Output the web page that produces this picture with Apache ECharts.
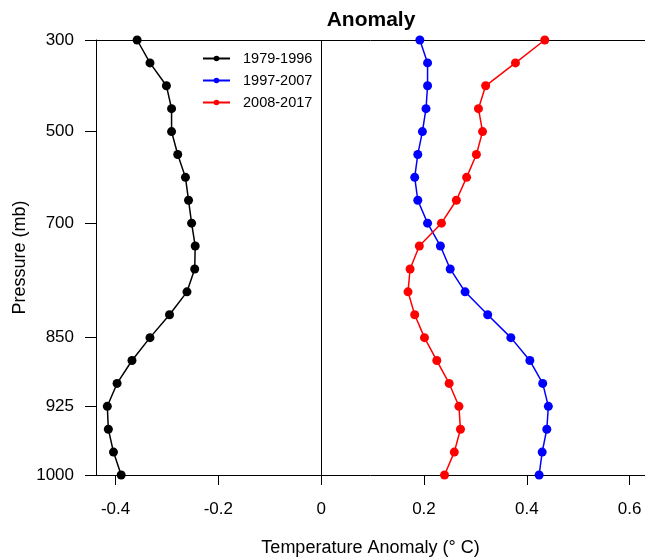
<!DOCTYPE html>
<html style="height: 100%">
    <head>
        <title>Anomaly</title>
        <script type="text/javascript" src="https://cdn.jsdelivr.net/npm/echarts@6.0.0/dist/echarts.min.js"></script>
    </head>
    <body style="height: 100%; margin: 0">
        <div id="target" style="width: 645px; height: 558px"></div>
<script>

// pressure levels (mb), top to bottom
const levels = ["300", "350", "400", "450", "500", "550", "600", "650", "700", "750",
                "775", "800", "825", "850", "875", "900", "925", "950", "975", "1000"];
const labelledLevels = ["300", "500", "700", "850", "925", "1000"];
const xTicks = [-0.4, -0.2, 0, 0.2, 0.4, 0.6];

const p1979 = [-0.358, -0.333, -0.301, -0.291, -0.291, -0.279, -0.264, -0.258, -0.252, -0.245,
               -0.246, -0.261, -0.295, -0.333, -0.368, -0.397, -0.416, -0.414, -0.404, -0.389];
const p1997 = [0.192, 0.207, 0.207, 0.204, 0.197, 0.188, 0.182, 0.188, 0.207, 0.232,
               0.251, 0.280, 0.324, 0.369, 0.406, 0.431, 0.442, 0.439, 0.430, 0.424];
const p2008 = [0.435, 0.378, 0.320, 0.306, 0.314, 0.302, 0.283, 0.263, 0.234, 0.191,
               0.173, 0.169, 0.182, 0.201, 0.225, 0.249, 0.268, 0.271, 0.259, 0.240];

const font = "Liberation Sans, Arial, sans-serif";

let chart = echarts.init(document.getElementById('target'));

function showLevel(index, value)
{
    return labelledLevels.indexOf(value) >= 0;
}

function makeSeries(name, data, color)
{
    return {
        name: name,
        type: "line",
        data: data,
        symbol: "circle",
        symbolSize: 9,
        itemStyle: { color: color },
        lineStyle: { color: color, width: 1.5 },
        z: 3,
    };
}

let series = [
    makeSeries("1979-1996", p1979, "#000000"),
    makeSeries("1997-2007", p1997, "#0000ff"),
    makeSeries("2008-2017", p2008, "#ff0000"),
];

// vertical line at zero
series[0].markLine = {
    silent: true,
    symbol: "none",
    label: { show: false },
    lineStyle: { color: "#000", width: 1, type: "solid" },
    data: [{ xAxis: 0 }],
    animation: false,
};

let option = {
    animation: false,
    textStyle: { fontFamily: font },
    title: {
        text: "Anomaly",
        left: 371,
        top: 10,
        padding: 0,
        textAlign: "center",
        textStyle: { fontFamily: font, fontSize: 21, fontWeight: "bold", color: "#000" },
    },
    legend: {
        orient: "vertical",
        left: 202,
        top: 51,
        padding: 0,
        itemWidth: 27,
        itemHeight: 7,
        itemGap: 7,
        textStyle: { fontFamily: font, fontSize: 14.5, color: "#000", padding: [0, 0, 0, 8] },
        data: ["1979-1996", "1997-2007", "2008-2017"],
    },
    grid: {
        left: 96,
        right: 0,
        top: 40,
        bottom: 83,
        containLabel: false,
        outerBoundsMode: "none",
    },
    xAxis: [
        {
            type: "value",
            min: -0.438,
            max: 0.630,
            position: "bottom",
            name: "Temperature Anomaly (° C)",
            nameLocation: "middle",
            nameGap: 64,
            nameMoveOverlap: false,
            nameTextStyle: { fontFamily: font, fontSize: 18, color: "#000" },
            axisLine: { show: true, lineStyle: { color: "#000", width: 1 } },
            axisTick: { show: true, length: 10, customValues: xTicks, lineStyle: { color: "#000" } },
            axisLabel: {
                customValues: xTicks,
                margin: 26,
                fontFamily: font,
                fontSize: 17,
                color: "#000",
                formatter: v => (Math.abs(v) < 1e-9 ? "0" : v.toFixed(1)),
            },
            splitLine: { show: false },
        },
        {
            // top border
            type: "value",
            min: -0.438,
            max: 0.630,
            position: "top",
            axisLine: { show: true, lineStyle: { color: "#000", width: 1 } },
            axisTick: { show: false },
            axisLabel: { show: false },
            splitLine: { show: false },
        },
    ],
    yAxis: {
        type: "category",
        data: levels,
        inverse: true,
        boundaryGap: false,
        name: "Pressure (mb)",
        nameLocation: "middle",
        nameGap: 67,
        nameMoveOverlap: false,
        nameTextStyle: { fontFamily: font, fontSize: 18, color: "#000" },
        axisLine: { show: true, onZero: false, lineStyle: { color: "#000", width: 1 } },
        axisTick: { show: true, length: 11, interval: showLevel, lineStyle: { color: "#000" } },
        axisLabel: {
            interval: showLevel,
            margin: 22,
            fontFamily: font,
            fontSize: 17,
            color: "#000",
        },
        splitLine: { show: false },
    },
    series: series,
};

chart.setOption(option);

</script>
    </body>
</html>
